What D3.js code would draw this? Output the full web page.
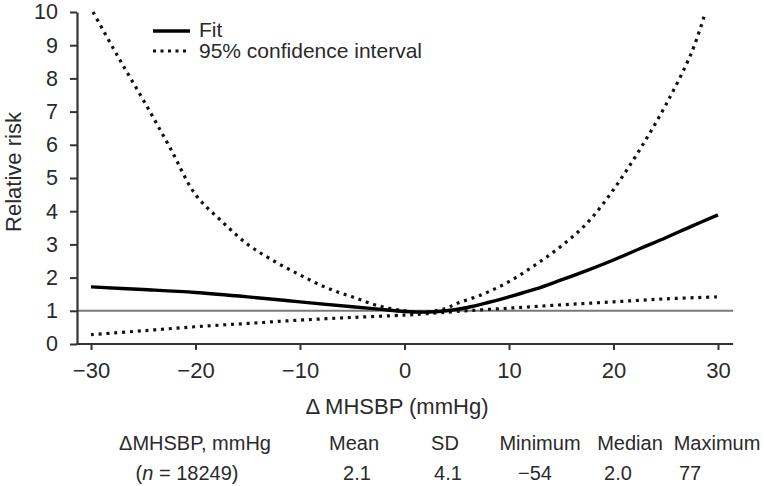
<!DOCTYPE html>
<html>
<head>
<meta charset="utf-8">
<script src="https://cdn.jsdelivr.net/npm/d3@7"></script>
<style>
  html, body { margin: 0; padding: 0; background: #fff; }
  svg { display: block; font-family: "Liberation Sans", Arial, Helvetica, sans-serif; }
</style>
</head>
<body>
<svg id="chart" width="764" height="486"></svg>
<script>
// ---- data ----
const fitX   = [-30, -25, -20, -15, -10, -5, -2.5, 0, 2, 4, 6, 8, 10, 12.5, 15, 17.5, 20, 22.5, 25, 27.5, 30];
const fitY   = [1.72, 1.64, 1.55, 1.42, 1.27, 1.12, 1.05, 0.98, 0.96, 1.0, 1.1, 1.25, 1.42, 1.65, 1.93, 2.22, 2.53, 2.87, 3.2, 3.55, 3.89];
const upperX = [-29.8, -27.5, -25, -22.5, -20, -17.5, -15, -12.5, -10, -7.5, -5, -2.5, 0, 2, 4, 5, 7.5, 10, 12.5, 15, 17.5, 20, 22.5, 25, 27.5, 28.8];
const upperY = [10, 8.7, 7.35, 5.95, 4.5, 3.7, 3.0, 2.5, 2.08, 1.7, 1.42, 1.15, 1.0, 0.96, 1.08, 1.22, 1.5, 1.88, 2.38, 2.95, 3.65, 4.65, 5.85, 7.2, 8.8, 10];
const lowerX = [-30, -25, -20, -15, -10, -5, 0, 2, 5, 10, 15, 20, 25, 30];
const lowerY = [0.28, 0.4, 0.52, 0.62, 0.72, 0.8, 0.87, 0.91, 0.98, 1.08, 1.18, 1.27, 1.36, 1.42];
const xTicks = [-30, -20, -10, 0, 10, 20, 30];
const yTicks = [0, 1, 2, 3, 4, 5, 6, 7, 8, 9, 10];
const referenceRR = 1;
const legendLabels = ["Fit", "95% confidence interval"];
const statHeaders = ["Mean", "SD", "Minimum", "Median", "Maximum"];
const statValues  = ["2.1", "4.1", "\u221254", "2.0", "77"];
const xTitle = "\u0394 MHSBP (mmHg)";
const yTitle = "Relative risk";

// ---- layout ----
const svg = d3.select("#chart");
const textColor = "#2a2a2a";
const x = d3.scaleLinear().domain([-30, 30]).range([91, 718]);
const y = d3.scaleLinear().domain([0, 10]).range([344, 12]);
const axisLeftX = 77, axisRightX = 733;
const fmt = v => (v < 0 ? "\u2212" + Math.abs(v) : String(v));

// reference line at RR = 1
svg.append("line")
  .attr("x1", axisLeftX).attr("x2", axisRightX)
  .attr("y1", y(referenceRR)).attr("y2", y(referenceRR))
  .attr("stroke", "#7a7a7a").attr("stroke-width", 2);

// curves
const line = d3.line().x(d => x(d[0])).y(d => y(d[1])).curve(d3.curveCatmullRom.alpha(0.5));
const toPts = (xs, ys) => xs.map((v, i) => [v, ys[i]]);

svg.append("path").datum(toPts(upperX, upperY)).attr("d", line)
  .attr("fill", "none").attr("stroke", "#111").attr("stroke-width", 3.2)
  .attr("stroke-dasharray", "3,4.8");
svg.append("path").datum(toPts(lowerX, lowerY)).attr("d", line)
  .attr("fill", "none").attr("stroke", "#111").attr("stroke-width", 3.2)
  .attr("stroke-dasharray", "3,4.8");
svg.append("path").datum(toPts(fitX, fitY)).attr("d", line)
  .attr("fill", "none").attr("stroke", "#000").attr("stroke-width", 3.4);

// y axis
const gy = svg.append("g").attr("transform", `translate(${axisLeftX},0)`)
  .call(d3.axisLeft(y).tickValues(yTicks).tickSize(7).tickSizeOuter(0).tickPadding(12).tickFormat(d3.format("d")));
gy.select(".domain").attr("stroke", "#333").attr("stroke-width", 2.2);
gy.selectAll(".tick line").attr("stroke", "#333").attr("stroke-width", 2);
gy.selectAll(".tick text").attr("fill", textColor).style("font-size", "21.5px")
  .style("font-family", "'Liberation Sans', Arial, sans-serif");

// x axis
const gx = svg.append("g").attr("transform", `translate(0,${y(0)})`)
  .call(d3.axisBottom(x).tickValues(xTicks).tickSize(6).tickSizeOuter(0).tickPadding(12).tickFormat(fmt));
gx.select(".domain").remove();
gx.append("line").attr("x1", axisLeftX - 1).attr("x2", axisRightX).attr("y1", 0).attr("y2", 0)
  .attr("stroke", "#333").attr("stroke-width", 2.2);
gx.selectAll(".tick line").attr("stroke", "#333").attr("stroke-width", 2);
gx.selectAll(".tick text").attr("fill", textColor).style("font-size", "22px")
  .style("font-family", "'Liberation Sans', Arial, sans-serif");

// axis titles
svg.append("text").attr("x", 397).attr("y", 414).attr("text-anchor", "middle")
  .attr("fill", textColor).style("font-size", "22px").text(xTitle);
svg.append("text").attr("transform", "translate(21,172) rotate(-90)").attr("text-anchor", "middle")
  .attr("fill", textColor).style("font-size", "22px").text(yTitle);

// legend
svg.append("line").attr("x1", 153).attr("x2", 190).attr("y1", 31).attr("y2", 31)
  .attr("stroke", "#000").attr("stroke-width", 3.4);
svg.append("line").attr("x1", 153).attr("x2", 186).attr("y1", 51).attr("y2", 51)
  .attr("stroke", "#111").attr("stroke-width", 3.2).attr("stroke-dasharray", "3,4.5");
svg.append("text").attr("x", 199).attr("y", 37).attr("fill", textColor).style("font-size", "21px").text(legendLabels[0]);
svg.append("text").attr("x", 199).attr("y", 58).attr("fill", textColor).style("font-size", "21px").text(legendLabels[1]);

// statistics table
const headerX = [354, 445, 540, 630, 717];
const valueX  = [357, 448, 535, 618, 690];
svg.append("text").attr("x", 195).attr("y", 450).attr("text-anchor", "middle")
  .attr("fill", textColor).style("font-size", "20px").text("\u0394MHSBP, mmHg");
const nText = svg.append("text").attr("x", 187).attr("y", 480).attr("text-anchor", "middle")
  .attr("fill", textColor).style("font-size", "20px");
nText.append("tspan").text("(");
nText.append("tspan").style("font-style", "italic").text("n");
nText.append("tspan").text(" = 18249)");
svg.selectAll("text.hdr").data(statHeaders).join("text").attr("class", "hdr")
  .attr("x", (d, i) => headerX[i]).attr("y", 450).attr("text-anchor", "middle")
  .attr("fill", textColor).style("font-size", "20px").text(d => d);
svg.selectAll("text.val").data(statValues).join("text").attr("class", "val")
  .attr("x", (d, i) => valueX[i]).attr("y", 480).attr("text-anchor", "middle")
  .attr("fill", textColor).style("font-size", "20px").text(d => d);
</script>
</body>
</html>
